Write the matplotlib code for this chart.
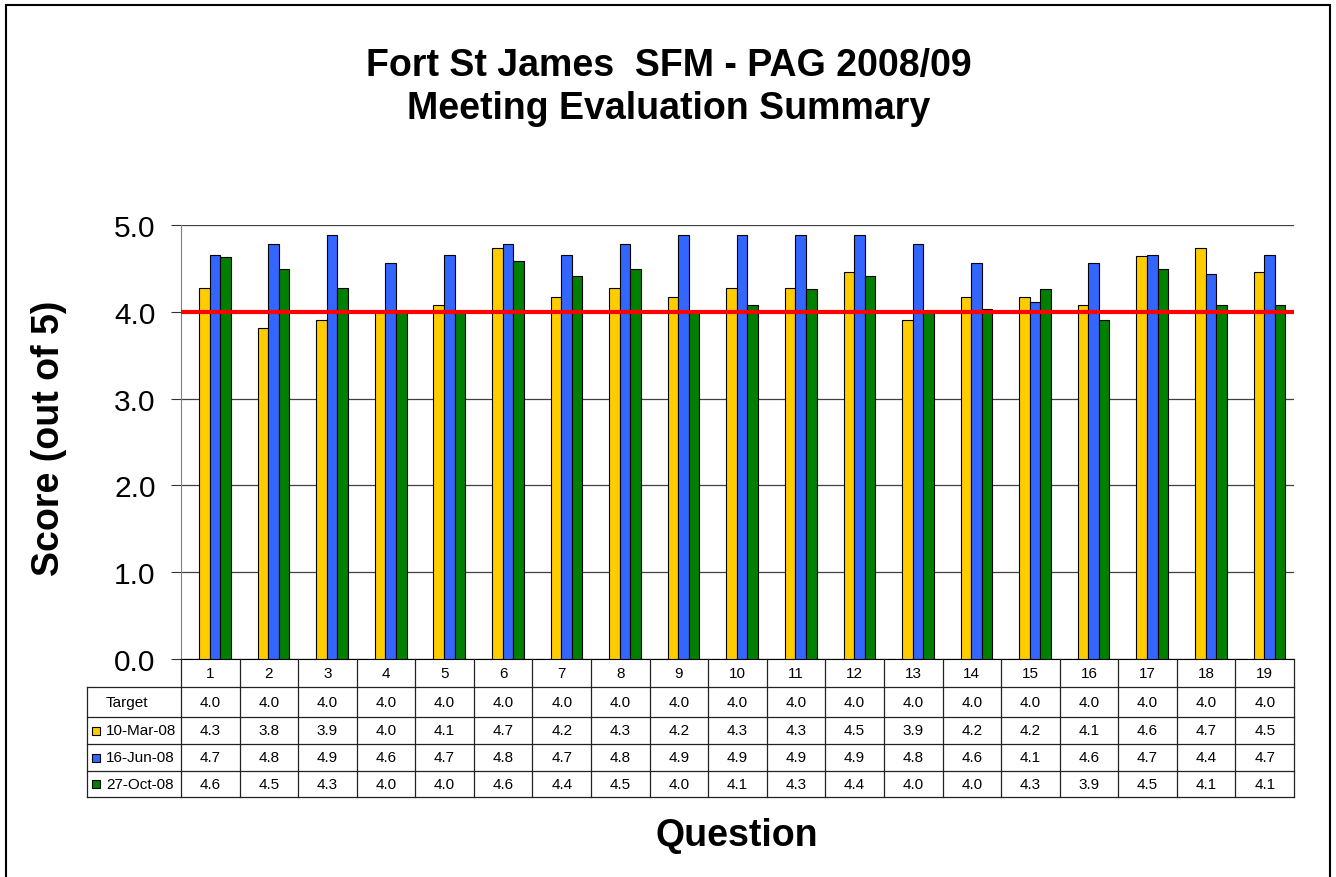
import numpy as np
import matplotlib
matplotlib.use("Agg")
import matplotlib.pyplot as plt
from matplotlib import transforms
from matplotlib.lines import Line2D
from matplotlib.patches import Rectangle

plt.rcParams["font.family"] = ["Liberation Sans", "DejaVu Sans"]

# data
questions = [str(q) for q in range(1, 20)]
target = 4.0
mar08 = [4.27, 3.81, 3.90, 4.00, 4.08, 4.73, 4.17, 4.27, 4.17, 4.27,
         4.27, 4.46, 3.90, 4.17, 4.17, 4.08, 4.64, 4.73, 4.46]
jun08 = [4.66, 4.78, 4.89, 4.56, 4.66, 4.78, 4.66, 4.78, 4.89, 4.89,
         4.89, 4.89, 4.78, 4.56, 4.11, 4.56, 4.66, 4.44, 4.66]
oct08 = [4.63, 4.49, 4.27, 4.00, 4.00, 4.59, 4.41, 4.49, 4.00, 4.08,
         4.26, 4.41, 4.00, 4.03, 4.26, 3.90, 4.49, 4.08, 4.08]
series_names = ["10-Mar-08", "16-Jun-08", "27-Oct-08"]
series_colors = ["#FFCC00", "#3366FF", "#008000"]
series = [mar08, jun08, oct08]

W, H = 1336, 878
fig = plt.figure(figsize=(W / 100, H / 100), dpi=100)


def fx(px):
    return px / W


def fy(py):
    return 1 - py / H


ax_l, ax_r, ax_t, ax_b = 181, 1294, 226, 660
ax = fig.add_axes([fx(ax_l), fy(ax_b), fx(ax_r - ax_l), (ax_b - ax_t) / H])

x = np.arange(len(questions))
bw = 0.18
shift = 0.08
for k, (vals, c) in enumerate(zip(series, series_colors)):
    ax.bar(x + (k - 1) * bw + shift, vals, width=bw, color=c,
           edgecolor="black", linewidth=0.8, zorder=3)

ax.axhline(target, color="#FF0000", lw=3, zorder=4)

ax.set_xlim(-0.5, len(questions) - 0.5)
ax.set_ylim(0, 5)
ax.set_yticks(np.arange(0, 5.1, 1))
ax.set_yticklabels([f"{v:.1f}" for v in np.arange(0, 5.1, 1)], fontsize=21.5)
ax.set_xticks([])
ax.tick_params(axis="y", direction="out", length=7.2, width=0.8,
               color="#333333", pad=11)
ax.grid(axis="y", color="#404040", lw=0.9, zorder=0)
ax.set_axisbelow(True)
for s in ["top", "right"]:
    ax.spines[s].set_visible(False)
ax.spines["left"].set_color("#808080")
ax.spines["bottom"].set_color("black")

# data table below the axis
blend = transforms.blended_transform_factory(ax.transData, fig.transFigure)
rows_y = [660, 688, 718, 745, 772, 798]
tab_l = 87
lc = "#222222"

for i in range(len(questions) + 1):
    fig.add_artist(Line2D([i - 0.5, i - 0.5], [fy(rows_y[0]), fy(rows_y[-1])],
                          transform=blend, color=lc, lw=0.9))
for py in rows_y[1:]:
    fig.add_artist(Line2D([fx(tab_l), fx(ax_r)], [fy(py), fy(py)],
                          transform=fig.transFigure, color=lc, lw=0.9))
fig.add_artist(Line2D([fx(tab_l), fx(tab_l)], [fy(rows_y[1]), fy(rows_y[-1])],
                      transform=fig.transFigure, color=lc, lw=0.9))

def row_mid(r):
    return fy((rows_y[r] + rows_y[r + 1]) / 2)

for i, q in enumerate(questions):
    fig.text(i, row_mid(0), q, transform=blend, ha="center", va="center",
             fontsize=11)
    fig.text(i, row_mid(1), f"{target:.1f}", transform=blend,
             ha="center", va="center", fontsize=11)
    for k, vals in enumerate(series):
        fig.text(i, row_mid(k + 2), f"{vals[i]:.1f}", transform=blend,
                 ha="center", va="center", fontsize=11)

fig.text(fx(106), row_mid(1), "Target", ha="left", va="center", fontsize=11)
for k, (name, c) in enumerate(zip(series_names, series_colors)):
    ym = (rows_y[k + 2] + rows_y[k + 3]) / 2
    fig.add_artist(Rectangle((fx(92), fy(ym + 4)), fx(8), 8 / H,
                             transform=fig.transFigure, facecolor=c,
                             edgecolor="black", lw=0.8))
    fig.text(fx(106), row_mid(k + 2), name, ha="left", va="center", fontsize=11)

# titles and axis labels
fig.text(fx(669), fy(76), "Fort St James  SFM - PAG 2008/09", ha="center",
         va="baseline", fontsize=27, fontweight="bold")
fig.text(fx(669), fy(119), "Meeting Evaluation Summary", ha="center",
         va="baseline", fontsize=27, fontweight="bold")
fig.text(fx(49), fy(438), "Score (out of 5)", rotation=90, ha="center",
         va="center", fontsize=27, fontweight="bold")
fig.text(fx(737), fy(846), "Question", ha="center", va="baseline",
         fontsize=27, fontweight="bold")

# chart border
fig.add_artist(Rectangle((fx(6), -0.02), fx(1324), fy(6) + 0.02,
                         transform=fig.transFigure, fill=False,
                         edgecolor="black", lw=1.5))

fig.savefig("out.png", dpi=100, facecolor="white")
